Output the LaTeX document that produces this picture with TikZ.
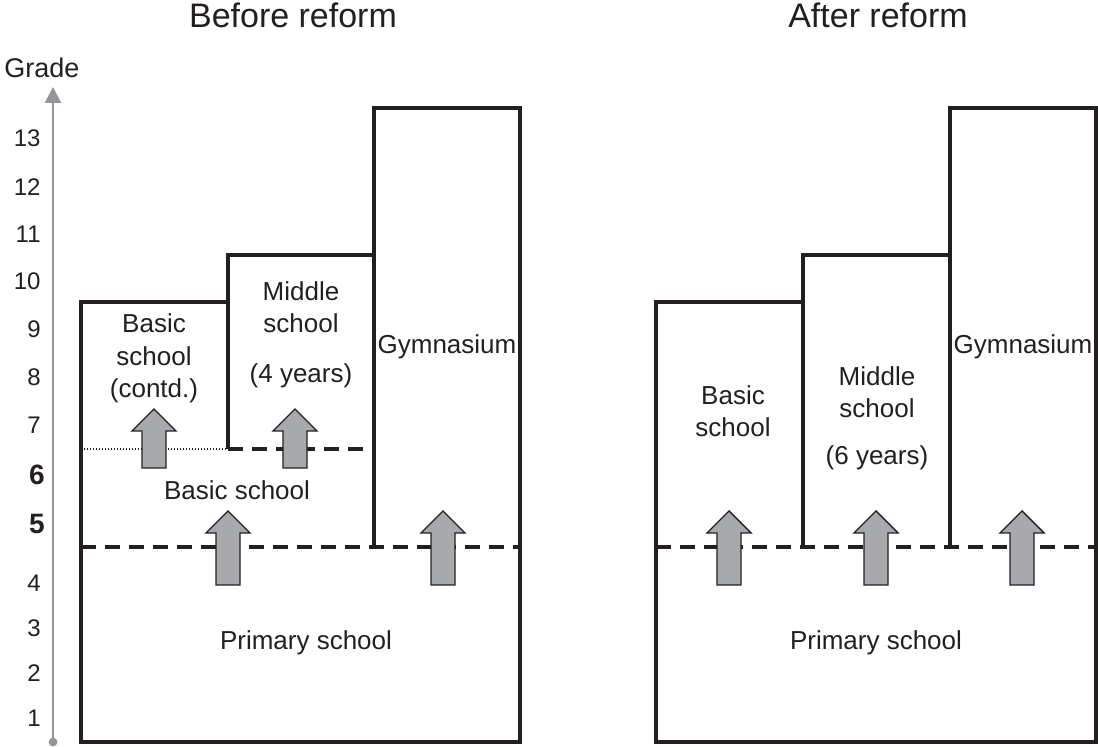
\documentclass[tikz,border=0pt]{standalone}
\usepackage{fontspec}
\setmainfont{Liberation Sans}
\usetikzlibrary{arrows.meta}

\definecolor{inkblack}{HTML}{231F20}
\definecolor{arrowgray}{HTML}{A7A9AC}
\definecolor{axisgray}{HTML}{939598}

\tikzset{
  wall/.style={draw=inkblack, line width=2pt, line join=miter},
  dashwall/.style={draw=inkblack, line width=2pt, dash pattern=on 7.5pt off 4.5pt},
  dotwall/.style={draw=inkblack, line width=0.6pt, dash pattern=on 0.6pt off 0.9pt},
  blockarrow/.style={draw=inkblack, fill=arrowgray, line width=0.7pt, line join=miter},
  lbl/.style={font=\fontsize{13}{16.25}\selectfont, align=center, text=inkblack, anchor=base},
  heading/.style={font=\fontsize{17}{20}\selectfont, text=inkblack, anchor=base},
  gradenum/.style={font=\fontsize{12}{14}\selectfont, text=inkblack, anchor=east, inner sep=0pt},
  boldnum/.style={font=\fontsize{14}{16}\selectfont\bfseries, text=inkblack, anchor=east, inner sep=0pt},
}

% block arrow: x, tip y, bottom y
\newcommand{\gradearrow}[3]{%
  \draw[blockarrow] ({#1-12},#3) -- ({#1-12},{#2+22}) -- ({#1-22},{#2+22}) -- (#1,#2)
    -- ({#1+22},{#2+22}) -- ({#1+12},{#2+22}) -- ({#1+12},#3) -- cycle;}

\begin{document}
\begin{tikzpicture}[x=0.5pt,y=-0.5pt]
\useasboundingbox (0,0) rectangle (1098,747);

% grade axis
\draw[axisgray, line width=1pt, -{Triangle[width=8pt,length=8pt]}] (53,742) -- (53,87);
\fill[axisgray] (53,742) circle[radius=2.2pt];
\node[font=\fontsize{13.5}{16}\selectfont, text=inkblack] (grade) at (42,68) {Grade};
\foreach \g/\y in {13/138,12/187,11/234,10/281,9/329,8/377,7/425,4/583,3/628,2/673,1/718}
  \node[gradenum] (g\g) at (41,\y) {\g};
\node[boldnum] (g6) at (45,475) {6};
\node[boldnum] (g5) at (45,524) {5};

% before reform
\node[heading] (before) at (293,28) {Before reform};
\draw[wall] (81,742) -- (81,302) -- (228,302) -- (228,255) -- (374,255) -- (374,108)
  -- (520,108) -- (520,742) -- cycle;
\draw[wall] (228,302) -- (228,449);
\draw[wall] (374,255) -- (374,547);
\draw[dotwall] (81,449) -- (228,449);
\draw[dashwall] (228,449) -- (374,449);
\draw[dashwall] (81,547) -- (520,547);
\node[lbl] (basiccontd) at (154,398) {Basic\\school\\(contd.)};
\node[lbl] (middleold) at (301,333) {Middle\\school};
\node[lbl] (fouryears) at (301,383) {(4 years)};
\node[lbl] (gymold) at (447,354) {Gymnasium};
\node[lbl] (basicold) at (237,500) {Basic school};
\node[lbl] (primaryold) at (306,650) {Primary school};
\gradearrow{154}{409}{468}
\gradearrow{295}{409}{468}
\gradearrow{228}{511}{585}
\gradearrow{443}{511}{585}

% after reform
\node[heading] (after) at (878,28) {After reform};
\draw[wall] (656,742) -- (656,302) -- (803,302) -- (803,255) -- (950,255) -- (950,108)
  -- (1096,108) -- (1096,742) -- cycle;
\draw[wall] (803,302) -- (803,547);
\draw[wall] (950,255) -- (950,547);
\draw[dashwall] (656,547) -- (1096,547);
\node[lbl] (basicnew) at (733,437) {Basic\\school};
\node[lbl] (middlenew) at (877,418) {Middle\\school};
\node[lbl] (sixyears) at (877,465) {(6 years)};
\node[lbl] (gymnew) at (1023,354) {Gymnasium};
\node[lbl] (primarynew) at (876,650) {Primary school};
\gradearrow{729}{511}{585}
\gradearrow{876}{511}{585}
\gradearrow{1022}{511}{585}
\end{tikzpicture}
\end{document}
